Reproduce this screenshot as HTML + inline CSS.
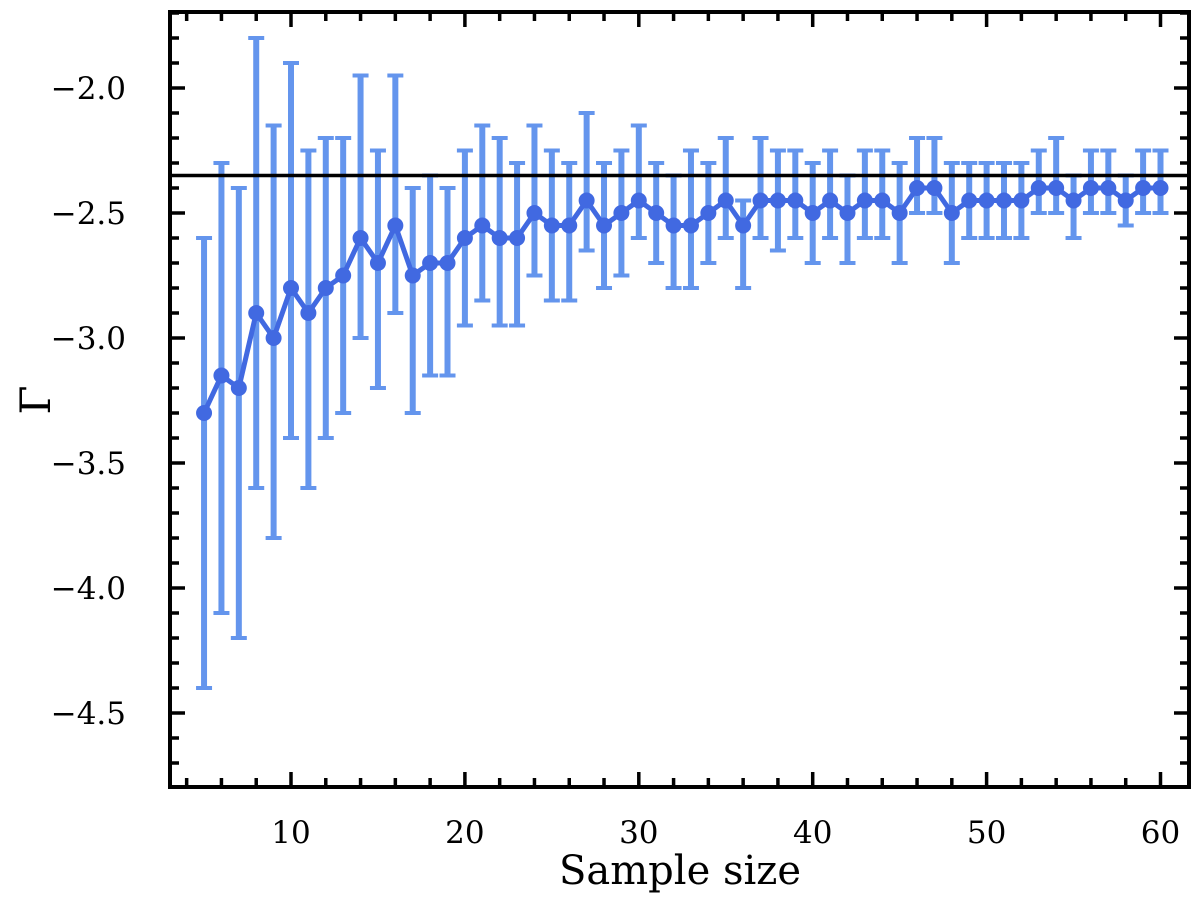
<!DOCTYPE html>
<html><head><meta charset="utf-8"><style>
body{margin:0;background:#fff}
svg text{font-family:"DejaVu Serif","Liberation Serif",serif;fill:#000}
</style></head><body>
<svg id="chart" width="1200" height="896" xmlns="http://www.w3.org/2000/svg">
<g id="bars"></g>
<g id="ax"></g>
</svg>
<script>
const xs=[5,6,7,8,9,10,11,12,13,14,15,16,17,18,19,20,21,22,23,24,25,26,27,28,29,30,31,32,33,34,35,36,37,38,39,40,41,42,43,44,45,46,47,48,49,50,51,52,53,54,55,56,57,58,59,60];
const vals=[-3.3,-3.15,-3.2,-2.9,-3.0,-2.8,-2.9,-2.8,-2.75,-2.6,-2.7,-2.55,-2.75,-2.7,-2.7,-2.6,-2.55,-2.6,-2.6,-2.5,-2.55,-2.55,-2.45,-2.55,-2.5,-2.45,-2.5,-2.55,-2.55,-2.5,-2.45,-2.55,-2.45,-2.45,-2.45,-2.5,-2.45,-2.5,-2.45,-2.45,-2.5,-2.4,-2.4,-2.5,-2.45,-2.45,-2.45,-2.45,-2.4,-2.4,-2.45,-2.4,-2.4,-2.45,-2.4,-2.4];
const lows=[-4.4,-4.1,-4.2,-3.6,-3.8,-3.4,-3.6,-3.4,-3.3,-3.0,-3.2,-2.9,-3.3,-3.15,-3.15,-2.95,-2.85,-2.95,-2.95,-2.75,-2.85,-2.85,-2.65,-2.8,-2.75,-2.6,-2.7,-2.8,-2.8,-2.7,-2.6,-2.8,-2.6,-2.65,-2.6,-2.7,-2.6,-2.7,-2.6,-2.6,-2.7,-2.5,-2.5,-2.7,-2.6,-2.6,-2.6,-2.6,-2.5,-2.5,-2.6,-2.5,-2.5,-2.55,-2.5,-2.5];
const highs=[-2.6,-2.3,-2.4,-1.8,-2.15,-1.9,-2.25,-2.2,-2.2,-1.95,-2.25,-1.95,-2.4,-2.35,-2.4,-2.25,-2.15,-2.2,-2.3,-2.15,-2.25,-2.3,-2.1,-2.3,-2.25,-2.15,-2.3,-2.35,-2.25,-2.3,-2.2,-2.45,-2.2,-2.25,-2.25,-2.3,-2.25,-2.35,-2.25,-2.25,-2.3,-2.2,-2.2,-2.3,-2.3,-2.3,-2.3,-2.3,-2.25,-2.2,-2.35,-2.25,-2.25,-2.35,-2.25,-2.25];
const refLine=-2.35;
const xTicks=[10,20,30,40,50,60];
const yTicks=[-2.0,-2.5,-3.0,-3.5,-4.0,-4.5];
const yLabels=["\u22122.0","\u22122.5","\u22123.0","\u22123.5","\u22124.0","\u22124.5"];
const L=170,R=1189,T=12,B=787;
const X=v=>291+(v-10)*17.39;
const Y=v=>88+(-2.0-v)*250;
const NS="http://www.w3.org/2000/svg";
function mk(p,t,a){const e=document.createElementNS(NS,t);for(const k in a)e.setAttribute(k,a[k]);p.appendChild(e);return e;}
const bars=document.getElementById('bars'),ax=document.getElementById('ax');
xs.forEach((x,i)=>{
 const g=mk(bars,'g',{});
 
 
 mk(g,'line',{x1:X(x),x2:X(x),y1:Y(lows[i]),y2:Y(highs[i]),stroke:'#6495ED','stroke-width':6});
 mk(g,'line',{x1:X(x)-8,x2:X(x)+8,y1:Y(lows[i]),y2:Y(lows[i]),stroke:'#6495ED','stroke-width':4});
 mk(g,'line',{x1:X(x)-8,x2:X(x)+8,y1:Y(highs[i]),y2:Y(highs[i]),stroke:'#6495ED','stroke-width':4});
});
const rl=mk(ax,'line',{x1:L,x2:R,y1:Y(refLine),y2:Y(refLine),stroke:'#000','stroke-width':3.5});


const ln=mk(ax,'polyline',{points:xs.map((x,i)=>X(x)+','+Y(vals[i])).join(' '),fill:'none',stroke:'#4169E1','stroke-width':5,'stroke-linejoin':'round'});


xs.forEach((x,i)=>{
 const c=mk(ax,'circle',{cx:X(x),cy:Y(vals[i]),r:8,fill:'#4169E1'});
 
 
});
const fr=mk(ax,'rect',{x:L,y:T,width:R-L,height:B-T,fill:'none',stroke:'#000','stroke-width':4});


for(let v=4;v<=62;v+=2){const px=X(v);if(px<=L||px>=R)continue;const mj=v%10==0,l=mj?15:9;
 mk(ax,'line',{x1:px,x2:px,y1:B,y2:B-l,stroke:'#000','stroke-width':3.5});
 mk(ax,'line',{x1:px,x2:px,y1:T,y2:T+l,stroke:'#000','stroke-width':3.5});}
for(let k=-48;k<=-17;k++){const v=k/10,py=Y(v);if(py<=T||py>=B)continue;const mj=k%5==0,l=mj?15:9;
 mk(ax,'line',{x1:L,x2:L+l,y1:py,y2:py,stroke:'#000','stroke-width':3.5});
 mk(ax,'line',{x1:R,x2:R-l,y1:py,y2:py,stroke:'#000','stroke-width':3.5});}
xTicks.forEach(v=>{const t=mk(ax,'text',{x:X(v),y:B+56,'text-anchor':'middle','font-size':31});t.textContent=v;
 });
yTicks.forEach((v,i)=>{const t=mk(ax,'text',{x:L-44,y:Y(v)+11,'text-anchor':'end','font-size':31});t.textContent=yLabels[i];
 });
const xt=mk(ax,'text',{x:680,y:884,'text-anchor':'middle','font-size':40});xt.textContent='Sample size';

const yt=mk(ax,'text',{x:0,y:0,'text-anchor':'middle','font-size':42,transform:'translate(50,400) rotate(-90)'});yt.textContent='Γ';

</script>
</body></html>
